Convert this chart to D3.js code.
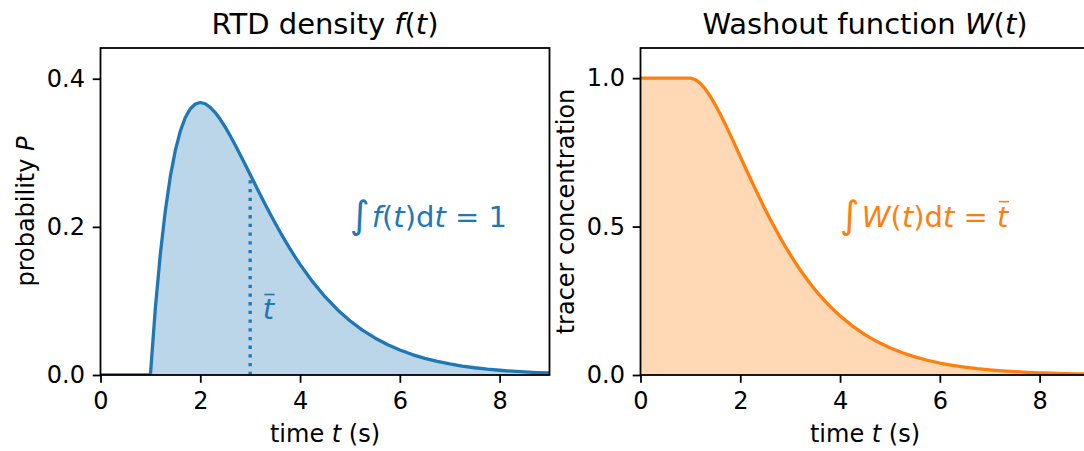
<!DOCTYPE html>
<html>
<head>
<meta charset="utf-8">
<script src="https://cdn.jsdelivr.net/npm/d3@7"></script>
<style>
  html, body { margin: 0; padding: 0; background: #fff; }
  svg { display: block; font-family: "DejaVu Sans", sans-serif; }
</style>
</head>
<body>
<svg id="chart" width="1084" height="451"></svg>
<script>
// Sample times (s): denser around the peak, coarser in the tail
const times = [0, 1.0, 1.1, 1.2, 1.3, 1.4, 1.5, 1.6, 1.7, 1.8, 1.9, 2.0,
  2.1, 2.2, 2.3, 2.4, 2.5, 2.6, 2.7, 2.8, 2.9, 3.0,
  3.1, 3.2, 3.3, 3.4, 3.5, 3.6, 3.7, 3.8, 3.9, 4.0,
  4.25, 4.5, 4.75, 5.0, 5.25, 5.5, 5.75, 6.0, 6.25, 6.5, 6.75, 7.0,
  7.25, 7.5, 7.75, 8.0, 8.25, 8.5, 8.75, 9.0];

// Residence-time density f(t)
const density = [0, 0, 0.0905, 0.1637, 0.2222, 0.2681, 0.3033, 0.3293, 0.3476, 0.3595, 0.3659, 0.3679,
  0.3662, 0.3614, 0.3543, 0.3452, 0.3347, 0.3230, 0.3106, 0.2975, 0.2842, 0.2707,
  0.2572, 0.2438, 0.2306, 0.2177, 0.2052, 0.1931, 0.1815, 0.1703, 0.1596, 0.1494,
  0.1260, 0.1057, 0.0882, 0.0733, 0.0606, 0.0500, 0.0411, 0.0337, 0.0276, 0.0225, 0.0183, 0.0149,
  0.0121, 0.0098, 0.0079, 0.0064, 0.0051, 0.0041, 0.0033, 0.0027];

// Washout function W(t): tracer concentration left in the vessel
const washout = [1, 1, 0.9953, 0.9825, 0.9631, 0.9384, 0.9098, 0.8781, 0.8442, 0.8088, 0.7725, 0.7358,
  0.6990, 0.6626, 0.6268, 0.5918, 0.5578, 0.5249, 0.4932, 0.4628, 0.4337, 0.4060,
  0.3796, 0.3546, 0.3308, 0.3084, 0.2873, 0.2674, 0.2487, 0.2311, 0.2146, 0.1991,
  0.1648, 0.1359, 0.1117, 0.0916, 0.0749, 0.0611, 0.0497, 0.0404, 0.0328, 0.0266, 0.0215, 0.0174,
  0.0140, 0.0113, 0.0091, 0.0073, 0.0059, 0.0047, 0.0038, 0.0030];

// Mean residence time and the density there
const meanTime = 3;
const densityAtMean = 0.2707;

const xTicks = [0, 2, 4, 6, 8];
const densityTicks = [0.0, 0.2, 0.4];
const washoutTicks = [0.0, 0.5, 1.0];

const blue = "#1f77b4", orange = "#ff7f0e";
const svg = d3.select("#chart");

const plotTop = 48, plotBottom = 375, plotW = 449;
const tickLen = 7.8, tickPad = 7.8;
const fontSize = 24, titleSize = 29, mathSize = 29, integralSize = 38;

function panel(opts) {
  const x = d3.scaleLinear().domain([0, 9]).range([opts.left, opts.left + plotW]);
  const y = d3.scaleLinear().domain([0, opts.yMax]).range([plotBottom, plotTop]);
  const g = svg.append("g");
  const clipId = "clip-" + opts.id;
  svg.append("clipPath").attr("id", clipId).append("rect")
    .attr("x", opts.left).attr("y", plotTop).attr("width", plotW).attr("height", plotBottom - plotTop);

  const pts = times.map((t, i) => [t, opts.values[i]]);
  const plot = g.append("g").attr("clip-path", `url(#${clipId})`);
  plot.append("path")
    .attr("d", d3.area().x(d => x(d[0])).y0(y(0)).y1(d => y(d[1]))(pts))
    .attr("fill", opts.color).attr("fill-opacity", 0.3);
  if (opts.extra) opts.extra(plot, x, y);
  plot.append("path")
    .attr("d", d3.line().x(d => x(d[0])).y(d => y(d[1]))(pts))
    .attr("fill", "none").attr("stroke", opts.color).attr("stroke-width", 3.3)
    .attr("stroke-linejoin", "round");

  // axes
  const ax = g.append("g").attr("transform", `translate(0,${plotBottom})`)
    .call(d3.axisBottom(x).tickValues(xTicks).tickFormat(d3.format("d"))
      .tickSize(tickLen).tickPadding(tickPad).tickSizeOuter(0));
  const ay = g.append("g").attr("transform", `translate(${opts.left},0)`)
    .call(d3.axisLeft(y).tickValues(opts.yTicks).tickFormat(d3.format(".1f"))
      .tickSize(tickLen).tickPadding(tickPad).tickSizeOuter(0));
  [ax, ay].forEach(a => {
    a.select(".domain").remove();
    a.selectAll("line").attr("stroke", "#000").attr("stroke-width", 1.8);
    a.selectAll("text").attr("fill", "#000").attr("font-size", fontSize)
      .attr("font-family", "DejaVu Sans");
  });
  ax.selectAll("text").attr("dy", "0.76em");

  // frame
  g.append("rect").attr("x", opts.left).attr("y", plotTop)
    .attr("width", plotW).attr("height", plotBottom - plotTop)
    .attr("fill", "none").attr("stroke", "#000").attr("stroke-width", 1.8);

  // title
  const cx = opts.left + plotW / 2;
  const title = g.append("text").attr("x", cx).attr("y", 34).attr("text-anchor", "middle")
    .attr("font-size", titleSize).attr("fill", "#000");
  title.append("tspan").text(opts.title + " ");
  title.append("tspan").attr("font-style", "italic").text(opts.fn);
  title.append("tspan").text("(");
  title.append("tspan").attr("font-style", "italic").text("t");
  title.append("tspan").text(")");

  // x label
  const xl = g.append("text").attr("x", cx).attr("y", 442).attr("text-anchor", "middle")
    .attr("font-size", fontSize).attr("fill", "#000");
  xl.append("tspan").text("time ");
  xl.append("tspan").attr("font-style", "italic").text("t");
  xl.append("tspan").text(" (s)");

  // y label
  const yl = g.append("text")
    .attr("transform", `translate(${opts.left - 67},${(plotTop + plotBottom) / 2}) rotate(-90)`)
    .attr("text-anchor", "middle").attr("font-size", fontSize).attr("fill", "#000");
  yl.append("tspan").text(opts.ylabel);
  if (opts.ylabelVar) yl.append("tspan").attr("font-style", "italic").text(" " + opts.ylabelVar);

  // integral annotation
  const ann = g.append("text").attr("x", x(opts.annX)).attr("y", y(opts.annY))
    .attr("font-size", mathSize).attr("fill", opts.color);
  ann.append("tspan").attr("font-size", integralSize).attr("dy", 1).text("∫");
  ann.append("tspan").attr("font-style", "italic").attr("dy", -1).attr("dx", 2).text(opts.fn);
  ann.append("tspan").text("(");
  ann.append("tspan").attr("font-style", "italic").text("t");
  ann.append("tspan").text(")d");
  ann.append("tspan").attr("font-style", "italic").text("t");
  ann.append("tspan").text(" = ");
  if (opts.rhs === "tbar") {
    const tb = ann.append("tspan").attr("font-style", "italic").text("t");
    overline(g, tb, opts.color, mathSize);
  } else {
    ann.append("tspan").text(opts.rhs);
  }
  return { g, x, y };
}

// Draw a bar over a text span (mean-value notation)
function overline(g, span, color, fs) {
  const node = span.node();
  const start = node.getStartPositionOfChar(0);
  const ext = node.getExtentOfChar(0);
  g.append("line")
    .attr("x1", ext.x + fs * 0.06).attr("x2", ext.x + ext.width + fs * 0.02)
    .attr("y1", start.y - fs * 0.86).attr("y2", start.y - fs * 0.86)
    .attr("stroke", color).attr("stroke-width", fs * 0.055);
}

panel({
  id: "rtd", left: 100.5, yMax: 0.4415, values: density, color: blue,
  yTicks: densityTicks, title: "RTD density", fn: "f",
  ylabel: "probability", ylabelVar: "P",
  annX: 5, annY: 0.2, rhs: "1",
  extra: (plot, x, y) => {
    plot.append("line")
      .attr("x1", x(meanTime)).attr("x2", x(meanTime))
      .attr("y1", y(0)).attr("y2", y(densityAtMean))
      .attr("stroke", blue).attr("stroke-width", 3.3)
      .attr("stroke-dasharray", "3.3,5.4");
    const lbl = plot.append("text").attr("x", x(3.25)).attr("y", y(0.075))
      .attr("font-size", mathSize).attr("fill", blue);
    const t = lbl.append("tspan").attr("font-style", "italic").text("t");
    overline(plot, t, blue, mathSize);
  }
});

panel({
  id: "wash", left: 640.5, yMax: 1.1015, values: washout, color: orange,
  yTicks: washoutTicks, title: "Washout function", fn: "W",
  ylabel: "tracer concentration",
  annX: 4, annY: 0.5, rhs: "tbar"
});
</script>
</body>
</html>
